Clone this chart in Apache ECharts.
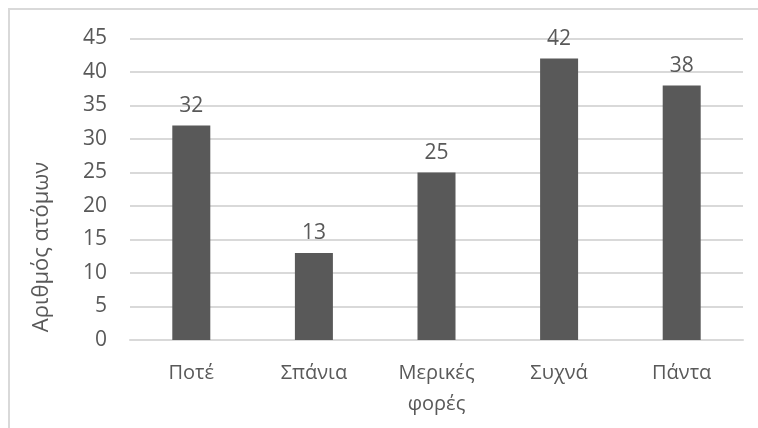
<!DOCTYPE html>
<html>
<head>
<meta charset="utf-8">
<script src="https://cdn.jsdelivr.net/npm/echarts@6/dist/echarts.min.js"></script>
<style>
  html, body { margin: 0; padding: 0; background: #ffffff; }
  #chart { width: 758px; height: 428px; }
</style>
</head>
<body>
<div id="chart"></div>
<script>
// Response frequency categories and number of people per answer
const categories = ['Ποτέ', 'Σπάνια', 'Μερικές\nφορές', 'Συχνά', 'Πάντα'];
const counts = [32, 13, 25, 42, 38];
const yAxisTitle = 'Αριθμός ατόμων';

const textColor = '#595959';
const gridColor = '#d9d9d9';
const font = '"Open Sans", sans-serif';

const chart = echarts.init(document.getElementById('chart'), null, { renderer: 'canvas' });

chart.setOption({
  backgroundColor: '#ffffff',
  animation: false,
  graphic: [
    {
      // chart area frame
      type: 'rect',
      shape: { x: 9, y: 9, width: 800, height: 440 },
      style: { fill: 'none', stroke: gridColor, lineWidth: 2 },
      silent: true
    },
    {
      // vertical axis title
      type: 'text',
      x: 42,
      y: 247,
      rotation: Math.PI / 2,
      style: {
        text: yAxisTitle,
        fill: textColor,
        font: '22px ' + font,
        textAlign: 'center',
        textVerticalAlign: 'middle'
      },
      silent: true
    }
  ],
  grid: { left: 130, right: 15, top: 38.5, bottom: 88, containLabel: false },
  xAxis: {
    type: 'category',
    data: categories,
    axisLine: { show: true, lineStyle: { color: gridColor, width: 2 } },
    axisTick: { show: false },
    axisLabel: {
      color: textColor,
      fontFamily: font,
      fontSize: 20,
      lineHeight: 31,
      margin: 18,
      interval: 0
    }
  },
  yAxis: {
    type: 'value',
    min: 0,
    max: 45,
    interval: 5,
    axisLine: { show: false },
    axisTick: { show: false },
    axisLabel: { color: textColor, fontFamily: font, fontSize: 21, margin: 23 },
    splitLine: { show: true, lineStyle: { color: gridColor, width: 2 } }
  },
  series: [{
    type: 'bar',
    data: counts,
    barWidth: 38,
    itemStyle: { color: '#595959' },
    label: {
      show: true,
      position: 'top',
      distance: 9,
      color: textColor,
      fontFamily: font,
      fontSize: 21
    }
  }]
});
</script>
</body>
</html>
